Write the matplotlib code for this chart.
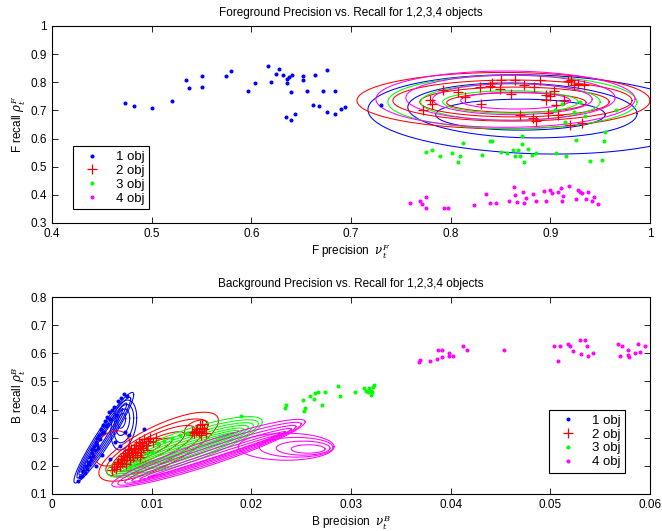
import numpy as np
import matplotlib
matplotlib.use('Agg')
import matplotlib.pyplot as plt

plt.rcParams['font.family'] = ['Liberation Sans', 'DejaVu Sans']
plt.rcParams['mathtext.fontset'] = 'dejavuserif'

# ---- foreground (top) data ----
fg_blue = [(0.473, 0.728), (0.482, 0.714), (0.500, 0.710), (0.520, 0.734), (0.534, 0.807),
           (0.537, 0.778), (0.551, 0.824), (0.551, 0.782), (0.575, 0.824), (0.580, 0.840),
           (0.597, 0.770), (0.604, 0.796), (0.617, 0.857), (0.620, 0.800), (0.625, 0.830),
           (0.628, 0.846), (0.632, 0.827), (0.635, 0.676), (0.636, 0.797), (0.636, 0.813),
           (0.638, 0.820), (0.640, 0.766), (0.641, 0.825), (0.644, 0.688), (0.640, 0.667),
           (0.652, 0.824), (0.652, 0.809), (0.656, 0.770), (0.664, 0.826), (0.662, 0.720),
           (0.668, 0.716), (0.672, 0.770), (0.676, 0.694), (0.676, 0.845), (0.684, 0.770),
           (0.684, 0.688), (0.690, 0.706), (0.694, 0.712), (0.730, 0.719)]
fg_red = [(0.772, 0.702), (0.779, 0.738), (0.781, 0.722), (0.792, 0.773), (0.807, 0.767),
          (0.814, 0.746), (0.829, 0.782), (0.830, 0.722), (0.839, 0.787), (0.841, 0.797),
          (0.849, 0.775), (0.850, 0.809), (0.861, 0.758), (0.865, 0.809), (0.870, 0.684),
          (0.874, 0.792), (0.883, 0.673), (0.884, 0.782), (0.886, 0.661), (0.890, 0.809),
          (0.896, 0.755), (0.896, 0.738), (0.898, 0.690), (0.904, 0.769), (0.906, 0.720),
          (0.908, 0.684), (0.914, 0.738), (0.918, 0.803), (0.920, 0.648), (0.921, 0.809),
          (0.924, 0.792), (0.928, 0.794), (0.932, 0.655), (0.934, 0.792), (0.900, 0.750)]
fg_green = [(0.775, 0.551), (0.781, 0.558), (0.789, 0.539), (0.801, 0.548), (0.807, 0.515),
            (0.809, 0.539), (0.812, 0.586), (0.831, 0.541), (0.841, 0.590), (0.851, 0.551),
            (0.857, 0.548), (0.863, 0.560), (0.865, 0.539), (0.872, 0.608), (0.872, 0.582),
            (0.868, 0.560), (0.870, 0.537), (0.874, 0.515), (0.878, 0.563), (0.882, 0.543),
            (0.886, 0.548), (0.906, 0.548), (0.916, 0.537), (0.926, 0.596), (0.940, 0.521),
            (0.952, 0.525), (0.954, 0.590), (0.966, 0.702), (0.912, 0.724), (0.924, 0.695),
            (0.930, 0.730), (0.955, 0.622), (0.839, 0.593), (0.915, 0.660), (0.905, 0.700),
            (0.935, 0.680)]
fg_magenta = [(0.759, 0.371), (0.769, 0.377), (0.771, 0.369), (0.775, 0.353), (0.775, 0.391),
              (0.793, 0.353), (0.797, 0.353), (0.823, 0.363), (0.835, 0.403), (0.839, 0.371),
              (0.845, 0.371), (0.859, 0.377), (0.864, 0.428), (0.865, 0.401), (0.867, 0.374),
              (0.873, 0.409), (0.874, 0.371), (0.876, 0.389), (0.883, 0.404), (0.886, 0.377),
              (0.894, 0.415), (0.896, 0.377), (0.900, 0.417), (0.902, 0.408), (0.908, 0.411),
              (0.911, 0.425), (0.913, 0.395), (0.912, 0.377), (0.919, 0.431), (0.926, 0.385),
              (0.928, 0.419), (0.930, 0.409), (0.932, 0.407), (0.936, 0.385), (0.942, 0.377),
              (0.944, 0.393), (0.948, 0.368), (0.938, 0.410)]

# ellipses: (cx, cy, a = x half-width, b = y half-height, k = shear slope)
fg_ell_blue = [(0.885, 0.686, 0.168, 0.140, -0.1), (0.872, 0.700, 0.115, 0.097, -0.1),
               (0.870, 0.685, 0.085, 0.055, 0)]
fg_ell_red = [(0.853, 0.735, 0.147, 0.100, 0), (0.862, 0.735, 0.120, 0.073, 0),
              (0.864, 0.730, 0.095, 0.053, 0), (0.866, 0.728, 0.070, 0.035, 0)]
fg_ell_green = [(0.862, 0.730, 0.125, 0.095, 0), (0.860, 0.730, 0.090, 0.065, 0),
                (0.860, 0.730, 0.068, 0.040, 0)]
fg_ell_magenta = [(0.855, 0.740, 0.130, 0.100, 0), (0.860, 0.745, 0.105, 0.080, 0),
                  (0.862, 0.740, 0.080, 0.055, 0), (0.865, 0.735, 0.055, 0.030, 0)]

# ---- background (bottom) data ----
bg_blue = [(0.0026, 0.145), (0.0028, 0.160), (0.0030, 0.165), (0.0031, 0.180), (0.0033, 0.175),
           (0.0034, 0.200), (0.0035, 0.190), (0.0036, 0.215), (0.0037, 0.205), (0.0038, 0.230),
           (0.0039, 0.220), (0.0040, 0.245), (0.0040, 0.260), (0.0041, 0.235), (0.0042, 0.270),
           (0.0043, 0.255), (0.0044, 0.285), (0.0045, 0.275), (0.0045, 0.300), (0.0046, 0.265),
           (0.0047, 0.310), (0.0048, 0.295), (0.0049, 0.330), (0.0050, 0.315), (0.0051, 0.345),
           (0.0052, 0.320), (0.0053, 0.360), (0.0054, 0.340), (0.0055, 0.375), (0.0056, 0.350),
           (0.0057, 0.390), (0.0058, 0.365), (0.0060, 0.400), (0.0062, 0.410), (0.0064, 0.380),
           (0.0066, 0.430), (0.0069, 0.440), (0.0072, 0.455), (0.0075, 0.450), (0.0063, 0.285),
           (0.0068, 0.270), (0.0073, 0.320), (0.0077, 0.310), (0.0092, 0.330), (0.0058, 0.225),
           (0.0050, 0.240), (0.0044, 0.200)]
bg_red = [(0.0060, 0.185), (0.0062, 0.195), (0.0064, 0.190), (0.0065, 0.205), (0.0066, 0.215),
          (0.0068, 0.200), (0.0069, 0.225), (0.0070, 0.210), (0.0071, 0.235), (0.0072, 0.220),
          (0.0073, 0.245), (0.0074, 0.205), (0.0075, 0.230), (0.0076, 0.255), (0.0077, 0.240),
          (0.0078, 0.220), (0.0079, 0.260), (0.0080, 0.245), (0.0081, 0.230), (0.0082, 0.265),
          (0.0083, 0.250), (0.0084, 0.275), (0.0085, 0.240), (0.0086, 0.260), (0.0087, 0.285),
          (0.0088, 0.270), (0.0089, 0.250), (0.0090, 0.280), (0.0091, 0.265), (0.0092, 0.295),
          (0.0094, 0.275), (0.0096, 0.290), (0.0098, 0.300), (0.0101, 0.285), (0.0104, 0.300),
          (0.0088, 0.230), (0.0095, 0.255),
          (0.0140, 0.320), (0.0142, 0.315), (0.0144, 0.325), (0.0145, 0.330), (0.0147, 0.320),
          (0.0148, 0.345), (0.0150, 0.335), (0.0151, 0.350), (0.0153, 0.330), (0.0155, 0.315),
          (0.0149, 0.310)]
bg_green = [(0.0105, 0.280), (0.0112, 0.290), (0.0120, 0.300), (0.0128, 0.310), (0.0135, 0.315),
            (0.0100, 0.250), (0.0095, 0.245), (0.0190, 0.377), (0.0234, 0.406), (0.0235, 0.416),
            (0.0252, 0.435), (0.0254, 0.407), (0.0253, 0.395), (0.0259, 0.449), (0.0263, 0.439),
            (0.0264, 0.458), (0.0267, 0.461), (0.0271, 0.415), (0.0274, 0.461), (0.0287, 0.482),
            (0.0289, 0.449), (0.0304, 0.464), (0.0313, 0.475), (0.0315, 0.467), (0.0317, 0.461),
            (0.0318, 0.475), (0.0320, 0.467), (0.0320, 0.451), (0.0321, 0.461), (0.0322, 0.479),
            (0.0323, 0.487)]
bg_magenta = [(0.0368, 0.568), (0.0369, 0.577), (0.0379, 0.574), (0.0386, 0.580), (0.0387, 0.610),
              (0.0391, 0.610), (0.0391, 0.586), (0.0398, 0.592), (0.0398, 0.601), (0.0402, 0.589),
              (0.0412, 0.625), (0.0416, 0.613), (0.0454, 0.610), (0.0504, 0.625), (0.0508, 0.571),
              (0.0510, 0.627), (0.0518, 0.633), (0.0520, 0.625), (0.0523, 0.607), (0.0530, 0.648),
              (0.0535, 0.648), (0.0531, 0.598), (0.0537, 0.627), (0.0538, 0.592), (0.0543, 0.601),
              (0.0568, 0.633), (0.0572, 0.625), (0.0570, 0.589), (0.0578, 0.610), (0.0579, 0.586),
              (0.0585, 0.601), (0.0588, 0.633), (0.0590, 0.604), (0.0595, 0.627), (0.0578, 0.594)]

bg_ell_blue = [(0.0052, 0.300, 0.0030, 0.050, 51), (0.0052, 0.300, 0.0027, 0.040, 51),
               (0.0051, 0.295, 0.0024, 0.030, 52), (0.0050, 0.290, 0.0021, 0.020, 53),
               (0.0049, 0.285, 0.0018, 0.011, 54),
               (0.0072, 0.345, 0.0013, 0.085, 20), (0.0072, 0.350, 0.0010, 0.065, 20),
               (0.0071, 0.355, 0.0007, 0.045, 20), (0.0070, 0.360, 0.0004, 0.025, 20)]
bg_ell_red = [(0.0107, 0.268, 0.0060, 0.080, 15.5), (0.0105, 0.265, 0.0051, 0.064, 15.5),
              (0.0102, 0.262, 0.0042, 0.049, 15.5), (0.0099, 0.258, 0.0034, 0.035, 15.5),
              (0.0095, 0.253, 0.0026, 0.022, 15.5), (0.0091, 0.248, 0.0018, 0.012, 15.5),
              (0.0060, 0.262, 0.0018, 0.060, 10), (0.0145, 0.335, 0.0012, 0.025, 10)]
bg_ell_green = [(0.0133, 0.267, 0.0078, 0.060, 11.5), (0.0133, 0.265, 0.0074, 0.050, 11.5),
                (0.0132, 0.263, 0.0070, 0.041, 11.5), (0.0131, 0.261, 0.0066, 0.033, 11.5),
                (0.0130, 0.259, 0.0062, 0.025, 11.5), (0.0129, 0.257, 0.0058, 0.018, 11.5),
                (0.0128, 0.255, 0.0054, 0.011, 11.5), (0.0127, 0.253, 0.0050, 0.005, 11.5)]
bg_ell_magenta = [(0.0157, 0.245, 0.0097, 0.045, 11.5), (0.0158, 0.243, 0.0092, 0.036, 11.5),
                  (0.0159, 0.241, 0.0086, 0.027, 11.5), (0.0160, 0.239, 0.0080, 0.019, 11.5),
                  (0.0161, 0.237, 0.0073, 0.011, 11.5), (0.0162, 0.235, 0.0066, 0.005, 11.5),
                  (0.0235, 0.268, 0.0048, 0.048, 0), (0.0245, 0.266, 0.0037, 0.035, 0),
                  (0.0252, 0.263, 0.0027, 0.025, 0), (0.0257, 0.260, 0.0017, 0.015, 0)]

labels = ['1 obj', '2 obj', '3 obj', '4 obj']
colors = ['#0000ff', '#ff0000', '#00ff00', '#ff00ff']
markers = ['.', '+', '.', '.']


def draw_ellipse(ax, e, color):
    cx, cy, a, b, k = e
    t = np.linspace(0, 2 * np.pi, 200)
    ax.plot(cx + a * np.cos(t), cy + k * a * np.cos(t) + b * np.sin(t),
            color=color, lw=0.75)


def panel(ax, pts, ells, xlim, ylim, xt, yt):
    hs = []
    for el, c in zip(ells, colors):
        for e in el:
            draw_ellipse(ax, e, c)
    for p, c, m, lab in zip(pts, colors, markers, labels):
        x, y = zip(*p)
        ms = 7 if m == '+' else 4
        h, = ax.plot(x, y, m, color=c, ms=ms, mew=0.9, label=lab, ls='none')
        hs.append(h)
    ax.set_xlim(xlim)
    ax.set_ylim(ylim)
    ax.set_xticks(xt)
    ax.set_yticks(yt)
    ax.set_xticklabels([('%g' % v) for v in xt])
    ax.set_yticklabels([('%g' % v) for v in yt])
    ax.tick_params(direction='in', top=True, right=True, labelsize=8.5, length=4, width=0.6)
    for s in ax.spines.values():
        s.set_linewidth(0.8)
    return hs


def add_legend(ax, hs, loc, anchor):
    leg = ax.legend(handles=hs, loc=loc, bbox_to_anchor=anchor, fontsize=9.5,
                    fancybox=False, edgecolor='k', framealpha=1, borderpad=0.35,
                    labelspacing=0.12, handlelength=2.2, handletextpad=0.7,
                    borderaxespad=0)
    leg.get_frame().set_linewidth(0.8)


fig = plt.figure(figsize=(6.62, 5.31), dpi=100)
ax1 = fig.add_axes([52 / 662, 1 - 223 / 531, 598 / 662, 197 / 531])
ax2 = fig.add_axes([52 / 662, 1 - 494 / 531, 598 / 662, 197 / 531])

h1 = panel(ax1, [fg_blue, fg_red, fg_green, fg_magenta],
           [fg_ell_blue, fg_ell_red, fg_ell_green, fg_ell_magenta],
           (0.4, 1.0), (0.3, 1.0), np.round(np.arange(0.4, 1.01, 0.1), 1),
           np.round(np.arange(0.3, 1.01, 0.1), 1))
ax1.set_title('Foreground Precision vs. Recall for 1,2,3,4 objects', fontsize=8.5, pad=7)
ax1.set_xlabel(r'F precision  $\nu_t^F$', fontsize=8.5, labelpad=1)
ax1.set_ylabel(r'F recall $\rho_t^F$', fontsize=8.5, labelpad=2)
add_legend(ax1, h1, 'lower left', (0.035, 0.07))

h2 = panel(ax2, [bg_blue, bg_red, bg_green, bg_magenta],
           [bg_ell_blue, bg_ell_red, bg_ell_green, bg_ell_magenta],
           (0, 0.06), (0.1, 0.8), np.round(np.arange(0, 0.061, 0.01), 2),
           np.round(np.arange(0.1, 0.81, 0.1), 1))
ax2.set_title('Background Precision vs. Recall for 1,2,3,4 objects', fontsize=8.5, pad=7)
ax2.set_xlabel(r'B precision  $\nu_t^B$', fontsize=8.5, labelpad=1)
ax2.set_ylabel(r'B recall $\rho_t^B$', fontsize=8.5, labelpad=2)
add_legend(ax2, h2, 'lower right', (0.958, 0.107))

fig.savefig('out.png', dpi=100)
